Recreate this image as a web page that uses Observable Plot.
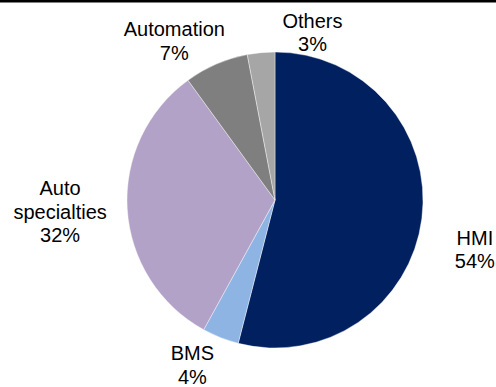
<!DOCTYPE html>
<html>
<head>
<meta charset="utf-8">
<script src="https://cdn.jsdelivr.net/npm/d3@7"></script>
<script src="https://cdn.jsdelivr.net/npm/@observablehq/plot@0.6"></script>
<style>
  html, body { margin: 0; padding: 0; background: #fff; }
  #chart svg { display: block; }
</style>
</head>
<body>
<div id="chart"></div>
<script>
// ---- data ----
const categories = ["HMI", "BMS", "Auto specialties", "Automation", "Others"];
const labelText = ["HMI", "BMS", "Auto\nspecialties", "Automation", "Others"];
const shares = [54, 4, 32, 7, 3];
const colors = ["#00205f", "#8eb4e3", "#b3a2c7", "#7f7f7f", "#a6a6a6"];

// ---- layout ----
const W = 496, H = 387;
const R = 148;            // pie radius in px
const CX = 275, CY = 200; // pie centre in px
const labelRadius = 1.3;  // in radius units
// label nudges (px) relative to the radial label anchor
const labelNudge = [[8.5, 24.5], [-12.3, -14.9], [-23.4, -1.5], [-24.8, 16.8], [55.1, 22.8]];

const rows = categories.map((c, i) => ({category: c, value: shares[i], label: labelText[i], color: colors[i]}));
const arcs = d3.pie().sort(null).value(d => d.value)(rows);

const labels = arcs.map((a, i) => {
  const mid = (a.startAngle + a.endAngle) / 2;
  return {
    x: labelRadius * Math.sin(mid) + labelNudge[i][0] / R,
    y: -labelRadius * Math.cos(mid) + labelNudge[i][1] / R,
    text: `${a.data.label}\n${a.data.value}%`
  };
});

const xDomain = [-CX / R, (W - CX) / R];
const yDomain = [-CY / R, (H - CY) / R];

function pieMark(index, scales) {
  const g = d3.create("svg:g");
  const cx = scales.x(0), cy = scales.y(0);
  const r = scales.x(1) - scales.x(0);
  const arc = d3.arc().innerRadius(0).outerRadius(r);
  g.attr("transform", `translate(${cx},${cy})`);
  g.selectAll("path")
    .data(arcs)
    .join("path")
    .attr("d", arc)
    .attr("fill", d => d.data.color)
    .attr("stroke", "#ffffff")
    .attr("stroke-width", 0.4);
  return g.node();
}

const chart = Plot.plot({
  width: W,
  height: H,
  margin: 0,
  style: {fontFamily: "'Liberation Sans', Arial, sans-serif", background: "#fff"},
  x: {domain: xDomain, range: [0, W], axis: null},
  y: {domain: yDomain, range: [0, H], axis: null},
  marks: [
    pieMark,
    Plot.text(labels, {
      x: "x", y: "y", text: "text",
      fontSize: 20, lineHeight: 1.18,
      textAnchor: "middle", lineAnchor: "middle",
      fill: "#000"
    }),
    Plot.ruleY([yDomain[0]], {stroke: "#000", strokeWidth: 4})
  ]
});
document.getElementById("chart").appendChild(chart);
</script>
</body>
</html>
